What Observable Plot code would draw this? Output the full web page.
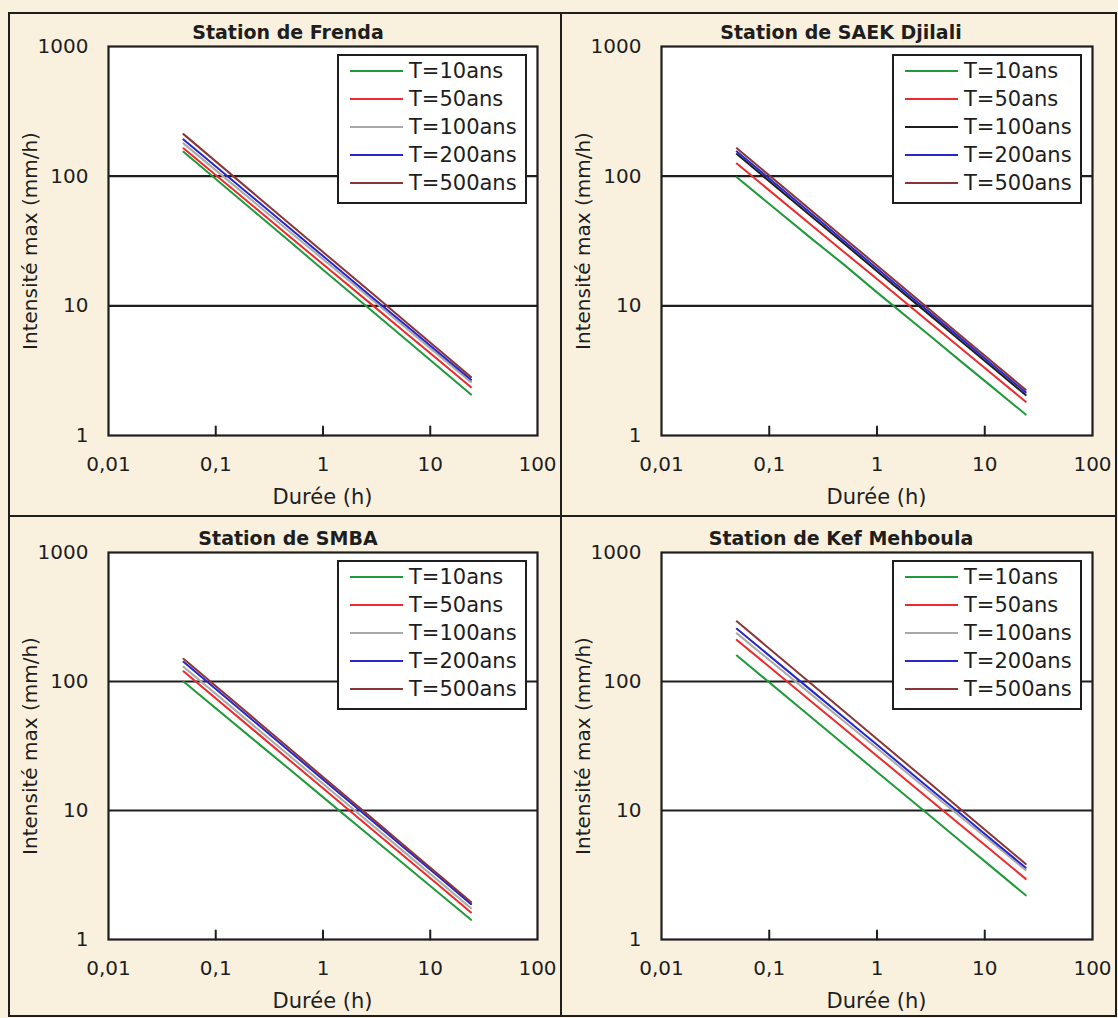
<!DOCTYPE html>
<html>
<head>
<meta charset="utf-8">
<script src="https://cdn.jsdelivr.net/npm/d3@7"></script>
<script src="https://cdn.jsdelivr.net/npm/@observablehq/plot@0.6"></script>
<style>
  html, body { margin: 0; padding: 0; }
  body { width: 1118px; height: 1018px; position: relative; overflow: hidden;
         background: #f9f1de; font-family: "DejaVu Sans", sans-serif; color: #1e1e1e; }
  .abs { position: absolute; }
  .title { font-weight: bold; font-size: 19px; line-height: 19px; white-space: nowrap; transform: translateX(-50%); }
  .ylab { font-size: 20px; line-height: 20px; white-space: nowrap; transform: translate(-50%, -50%) rotate(-90deg); }
  .xlab { font-size: 21px; line-height: 21px; white-space: nowrap; transform: translateX(-50%); }
  .legend { box-sizing: border-box; border: 2px solid #1e1e1e; background: #fff; }
  .row { position: absolute; left: 11px; height: 28px; display: flex; align-items: center; font-size: 21px; white-space: nowrap; }
</style>
</head>
<body>
<script>
// ---- data ----
const durations = [0.05, 0.25, 0.5, 1, 3, 6, 12, 24];
const periods = ["T=10ans", "T=50ans", "T=100ans", "T=200ans", "T=500ans"];
const stationNames = ["Station de Frenda", "Station de SAEK Djilali", "Station de SMBA", "Station de Kef Mehboula"];

const frendaIntensity = [
  [154, 50.1, 30.9, 19.0, 8.84, 5.45, 3.36, 2.07],
  [164, 54.3, 33.7, 20.9, 9.86, 6.12, 3.80, 2.36],
  [179, 59.2, 36.8, 22.9, 10.8, 6.68, 4.15, 2.58],
  [192, 63.1, 39.1, 24.2, 11.3, 7.02, 4.35, 2.69],
  [211, 68.5, 42.2, 26.0, 12.1, 7.43, 4.58, 2.82]
];
const saekIntensity = [
  [98, 32.7, 20.6, 12.7, 6.0, 3.73, 2.33, 1.45],
  [125, 41.5, 25.8, 16.1, 7.56, 4.70, 2.93, 1.82],
  [148, 48.5, 30.0, 18.5, 8.67, 5.36, 3.31, 2.05],
  [155, 50.8, 31.4, 19.4, 9.08, 5.61, 3.47, 2.15],
  [164, 53.6, 33.1, 20.5, 9.54, 5.89, 3.64, 2.25]
];
const smbaIntensity = [
  [100, 33.0, 20.5, 12.7, 5.95, 3.69, 2.29, 1.42],
  [120, 39.1, 24.1, 14.9, 6.90, 4.26, 2.63, 1.62],
  [130, 42.3, 26.1, 16.1, 7.47, 4.61, 2.84, 1.75],
  [142, 46.0, 28.3, 17.4, 8.07, 4.97, 3.06, 1.88],
  [150, 48.4, 29.7, 18.2, 8.42, 5.17, 3.18, 1.95]
];
const kefIntensity = [
  [159, 52.1, 32.2, 19.9, 9.3, 5.75, 3.56, 2.20],
  [210, 69.1, 42.8, 26.5, 12.4, 7.69, 4.76, 2.95],
  [236, 78.4, 48.8, 30.4, 14.3, 8.91, 5.54, 3.45],
  [256, 84.2, 52.1, 32.3, 15.1, 9.38, 5.81, 3.60],
  [293, 94.7, 58.2, 35.8, 16.6, 10.2, 6.26, 3.85]
];

const defaultColors = ["#1f9a3a", "#ee2a2a", "#a9a9a9", "#2626d0", "#8a3636"];
const saekColors = ["#1f9a3a", "#ee2a2a", "#1e1e1e", "#2626d0", "#8a3636"];

const xTickValues = [0.01, 0.1, 1, 10, 100];
const xTickLabels = ["0,01", "0,1", "1", "10", "100"];
const innerTickValues = [0.1, 1, 10];
const yTickValues = [1, 10, 100, 1000];
const yTickLabels = ["1", "10", "100", "1000"];
const gridValues = [10, 100];
const xLabel = "Durée (h)";
const yLabel = "Intensité max (mm/h)";

// ---- layout ----
const panelData = [frendaIntensity, saekIntensity, smbaIntensity, kefIntensity];
const panelColors = [defaultColors, saekColors, defaultColors, defaultColors];
const panels = [
  {left: 9,   top: 13,  width: 551, height: 503, ml: 99, mr: 23, mt: 33, mb: 81},
  {left: 562, top: 13,  width: 554, height: 503, ml: 99, mr: 24, mt: 33, mb: 81},
  {left: 9,   top: 517, width: 551, height: 499, ml: 99, mr: 23, mt: 35, mb: 77},
  {left: 562, top: 517, width: 554, height: 499, ml: 99, mr: 24, mt: 35, mb: 77}
];

// inward tick shape: a plain straight segment
const tickShape = {draw(context, l) { context.moveTo(0, 0); context.lineTo(0, -l); }};

function el(tag, cls, style, text) {
  const e = document.createElement(tag);
  if (cls) e.className = cls;
  Object.assign(e.style, style);
  if (text != null) e.textContent = text;
  document.body.appendChild(e);
  return e;
}

// outer frame and dividers
el("div", "abs", {left: "8px", top: "12px", width: "1109px", height: "1005px", boxSizing: "border-box", border: "2px solid #1e1e1e"});
el("div", "abs", {left: "560px", top: "12px", width: "2px", height: "1005px", background: "#1e1e1e"});
el("div", "abs", {left: "8px", top: "515px", width: "1109px", height: "2px", background: "#1e1e1e"});

panels.forEach((p, k) => {
  const values = panelData[k];
  const colors = panelColors[k];
  const rows = values.flatMap((series, i) => durations.map((d, j) => ({d, v: series[j], T: periods[i]})));

  const svg = Plot.plot({
    width: p.width, height: p.height,
    marginLeft: p.ml, marginRight: p.mr, marginTop: p.mt, marginBottom: p.mb,
    style: {background: "transparent", fontFamily: "'DejaVu Sans', sans-serif", fontSize: "20px", color: "#1e1e1e", overflow: "visible"},
    x: {type: "log", domain: [0.01, 100], label: null},
    y: {type: "log", domain: [1, 1000], label: null},
    color: {domain: periods, range: colors},
    marks: [
      Plot.frame({fill: "white", stroke: null}),
      Plot.ruleY(gridValues, {stroke: "#1e1e1e", strokeWidth: 2.2}),
      Plot.line(rows, {x: "d", y: "v", z: "T", stroke: "T", strokeWidth: 2}),
      Plot.vector(innerTickValues, {x: d => d, frameAnchor: "bottom", length: 9, anchor: "start",
        shape: tickShape, stroke: "#1e1e1e", fill: "none", strokeWidth: 2}),
      Plot.axisX(xTickValues, {tickSize: 0, tickPadding: 21, label: null, fontSize: 20,
        tickFormat: d => xTickLabels[xTickValues.indexOf(d)]}),
      Plot.axisY(yTickValues, {tickSize: 0, tickPadding: 20, label: null, fontSize: 20,
        tickFormat: d => yTickLabels[yTickValues.indexOf(d)]}),
      Plot.frame({stroke: "#1e1e1e", strokeWidth: 2.2})
    ]
  });
  svg.style.position = "absolute";
  svg.style.left = p.left + "px";
  svg.style.top = p.top + "px";
  document.body.appendChild(svg);

  const frameLeft = p.left + p.ml, frameRight = p.left + p.width - p.mr;
  const frameTop = p.top + p.mt, frameBottom = p.top + p.height - p.mb;

  el("div", "abs title", {left: (p.left + 279) + "px", top: (frameTop - 23) + "px"}, stationNames[k]);
  el("div", "abs ylab", {left: (p.left + 21) + "px", top: ((frameTop + frameBottom) / 2) + "px"}, yLabel);
  el("div", "abs xlab", {left: ((frameLeft + frameRight) / 2) + "px", top: (frameBottom + 52) + "px"}, xLabel);

  const lg = el("div", "abs legend", {left: (frameRight - 10 - 190) + "px", top: (frameTop + 8) + "px", width: "190px", height: "150px"});
  periods.forEach((name, i) => {
    const r = document.createElement("div");
    r.className = "row";
    r.style.top = (1 + 28 * i) + "px";
    r.innerHTML = `<svg width="53" height="4" style="display:block"><line x1="0" x2="53" y1="2" y2="2" stroke="${colors[i]}" stroke-width="2"/></svg><span style="margin-left:6px">${name}</span>`;
    lg.appendChild(r);
  });
});
</script>
</body>
</html>
